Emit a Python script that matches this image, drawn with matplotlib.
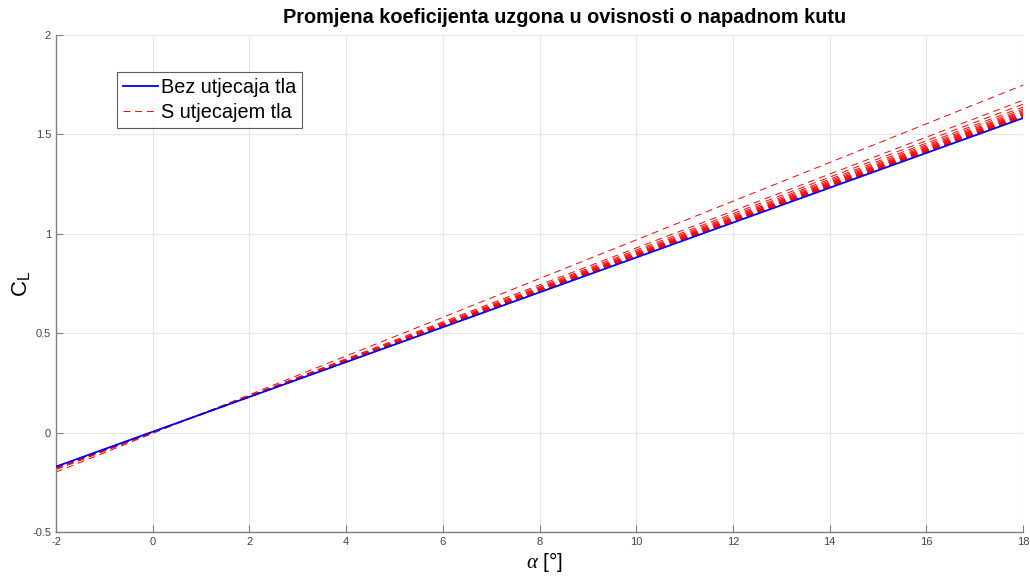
import numpy as np
import matplotlib
matplotlib.use("Agg")
import matplotlib.pyplot as plt

plt.rcParams['font.family'] = ['Liberation Sans', 'DejaVu Sans']
plt.rcParams['mathtext.fontset'] = 'custom'
plt.rcParams['mathtext.rm'] = 'Liberation Sans'
plt.rcParams['mathtext.it'] = 'Liberation Serif:italic'

# Data
alpha_range = [-2, 18]
cl_blue = [-0.171, 1.582]           # without ground effect, CL at alpha = -2 and 18
# with ground effect: CL at alpha = 18 for each height; lines share a common crossing point
cl18_ground = [1.748, 1.672, 1.652, 1.638, 1.628, 1.620, 1.614, 1.609, 1.605,
               1.601, 1.598, 1.595, 1.593, 1.591, 1.589, 1.588, 1.587]
cross_alpha = 0.8
cross_cl = 0.074

xticks = list(range(-2, 19, 2))
yticks = [-0.5, 0, 0.5, 1, 1.5, 2]

fig = plt.figure(figsize=(10.30, 5.78), dpi=100)
ax = fig.add_axes([0.0544, 0.0796, 0.9388, 0.8598])

x = np.array(alpha_range, dtype=float)
for i, c18 in enumerate(cl18_ground):
    slope = (c18 - cross_cl) / (alpha_range[1] - cross_alpha)
    y = cross_cl + slope * (x - cross_alpha)
    ax.plot(x, y, color='red', lw=0.7, ls=(0, (7, 5)),
            label='S utjecajem tla' if i == 0 else None)
ax.plot(x, cl_blue, color='blue', lw=1.3, label='Bez utjecaja tla', zorder=5)

ax.set_xlim(-2, 18)
ax.set_ylim(-0.5, 2)
ax.set_xticks(xticks)
ax.set_yticks(yticks)
ax.set_xticklabels([str(t) for t in xticks])
ax.set_yticklabels(['-0.5', '0', '0.5', '1', '1.5', '2'])
ax.grid(True, color='#e6e6e6', lw=0.8)
ax.set_axisbelow(True)
for s in ['top', 'right']:
    ax.spines[s].set_visible(False)
for s in ['left', 'bottom']:
    ax.spines[s].set_color('#808080')
    ax.spines[s].set_linewidth(1.0)
ax.tick_params(direction='in', length=5, colors='#808080', labelcolor='#444444', labelsize=8)

ax.set_title('Promjena koeficijenta uzgona u ovisnosti o napadnom kutu',
             fontsize=14.3, fontweight='bold', pad=9, x=0.526)
ax.set_xlabel(r'$\alpha$ [°]', fontsize=15)
ax.xaxis.set_label_coords(0.505, -0.037)
ax.set_ylabel(r'C$_\mathrm{L}$', fontsize=16, labelpad=0)

h, l = ax.get_legend_handles_labels()
order = [l.index('Bez utjecaja tla'), l.index('S utjecajem tla')]
leg = ax.legend([h[i] for i in order], [l[i] for i in order], loc='upper left',
                bbox_to_anchor=(0.063, 0.925), fontsize=14.3, frameon=True, fancybox=False,
                edgecolor='#333333', handlelength=1.75, handletextpad=0.15,
                borderpad=0.3, labelspacing=0.3, borderaxespad=0)
leg.get_frame().set_linewidth(0.8)

fig.savefig('out.png', dpi=100)
